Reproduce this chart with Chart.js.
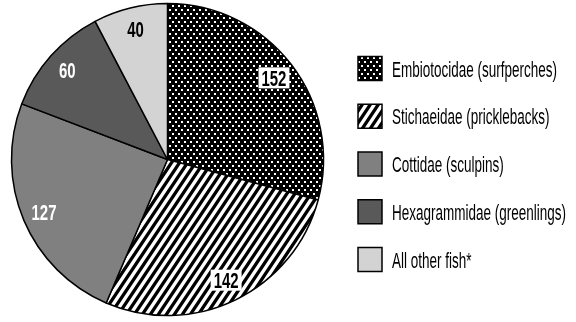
<!DOCTYPE html>
<html>
<head>
<meta charset="utf-8">
<script src="https://cdn.jsdelivr.net/npm/chart.js@4"></script>
<style>
  html, body { margin: 0; padding: 0; background: #fff; }
  #wrap { width: 576px; height: 322px; }
</style>
</head>
<body>
<div id="wrap"><canvas id="fishChart" width="576" height="322"></canvas></div>
<script>
const families = [
    'Embiotocidae (surfperches)',
    'Stichaeidae (pricklebacks)',
    'Cottidae (sculpins)',
    'Hexagrammidae (greenlings)',
    'All other fish*'
];
const counts = [152, 142, 127, 60, 40];

const FONT = "'Liberation Sans', Arial, sans-serif";

// black with white dots
function makeDots() {
    const c = document.createElement('canvas');
    c.width = 6;
    c.height = 8;
    const g = c.getContext('2d');
    g.fillStyle = '#000';
    g.fillRect(0, 0, 6, 8);
    g.fillStyle = '#fff';
    g.fillRect(1, 1, 2, 2);
    g.fillRect(4, 5, 2, 2);
    return g.createPattern(c, 'repeat');
}

// "/" stripes, a bit steeper than 45deg
function makeStripes() {
    const w = 8, h = 12;
    const c = document.createElement('canvas');
    c.width = w;
    c.height = h;
    const g = c.getContext('2d');
    g.fillStyle = '#fff';
    g.fillRect(0, 0, w, h);
    g.strokeStyle = '#000';
    g.lineWidth = 3.3;
    g.beginPath();
    for (let k = -1; k <= 1; k++) {
        g.moveTo(k * w - w, 2 * h);
        g.lineTo(k * w + 2 * w, -h);
    }
    g.stroke();
    return g.createPattern(c, 'repeat');
}

// value labels on the slices (condensed look)
const sliceLabels = {
    id: 'sliceLabels',
    afterDatasetsDraw(chart) {
        const ctx = chart.ctx;
        const textColors = ['#000', '#000', '#fff', '#fff', '#000'];
        const boxed = [true, true, false, false, false];
        const sx = 0.68;
        const arcs = chart.getDatasetMeta(0).data;
        ctx.save();
        ctx.font = 'bold 22px ' + FONT;
        ctx.textAlign = 'center';
        ctx.textBaseline = 'alphabetic';
        arcs.forEach((arc, i) => {
            const p = arc.getProps(['x', 'y', 'startAngle', 'endAngle', 'outerRadius'], true);
            const mid = (p.startAngle + p.endAngle) / 2;
            const r = p.outerRadius * 0.86;
            const lx = p.x + Math.cos(mid) * r;
            const ly = p.y + Math.sin(mid) * r;
            const text = String(counts[i]);
            if (boxed[i]) {
                const w = ctx.measureText(text).width * sx + 6;
                ctx.fillStyle = '#fff';
                ctx.fillRect(lx - w / 2, ly - 10.5, w, 21);
            }
            ctx.save();
            ctx.translate(lx, ly + 8);
            ctx.scale(sx, 1);
            ctx.fillStyle = textColors[i];
            ctx.fillText(text, 0, 0);
            ctx.restore();
        });
        ctx.restore();
    }
};

// legend on the right with swatches and condensed text
const sideLegend = {
    id: 'sideLegend',
    afterDraw(chart) {
        const ctx = chart.ctx;
        const fills = chart.data.datasets[0].backgroundColor;
        const labels = chart.data.labels;
        const boxX = 358, firstTop = 56.5, step = 47.75, box = 24;
        const textX = 392, textW = 174;
        ctx.save();
        ctx.font = '22px ' + FONT;
        const widest = Math.max(...labels.map(t => ctx.measureText(t).width));
        const sx = textW / widest;
        labels.forEach((label, i) => {
            const y = firstTop + i * step;
            ctx.fillStyle = fills[i];
            ctx.fillRect(boxX, y, box, box);
            ctx.lineWidth = 1.5;
            ctx.strokeStyle = '#000';
            ctx.strokeRect(boxX, y, box, box);
            ctx.save();
            ctx.translate(textX, y + box / 2 + 8);
            ctx.scale(sx, 1);
            ctx.fillStyle = '#000';
            ctx.textBaseline = 'alphabetic';
            ctx.fillText(label, 0, 0);
            ctx.restore();
        });
        ctx.restore();
    }
};

new Chart(document.getElementById('fishChart'), {
    type: 'pie',
    data: {
        labels: families,
        datasets: [{
            data: counts,
            backgroundColor: [makeDots(), makeStripes(), '#808080', '#595959', '#d3d3d3'],
            borderColor: '#000',
            borderWidth: 1.5,
            hoverOffset: 0
        }]
    },
    options: {
        responsive: false,
        animation: false,
        devicePixelRatio: 1,
        radius: 156,
        layout: {
            padding: { left: 1, right: 242, top: 3, bottom: 6 }
        },
        plugins: {
            legend: { display: false },
            tooltip: { enabled: false }
        }
    },
    plugins: [sliceLabels, sideLegend]
});
</script>
</body>
</html>
